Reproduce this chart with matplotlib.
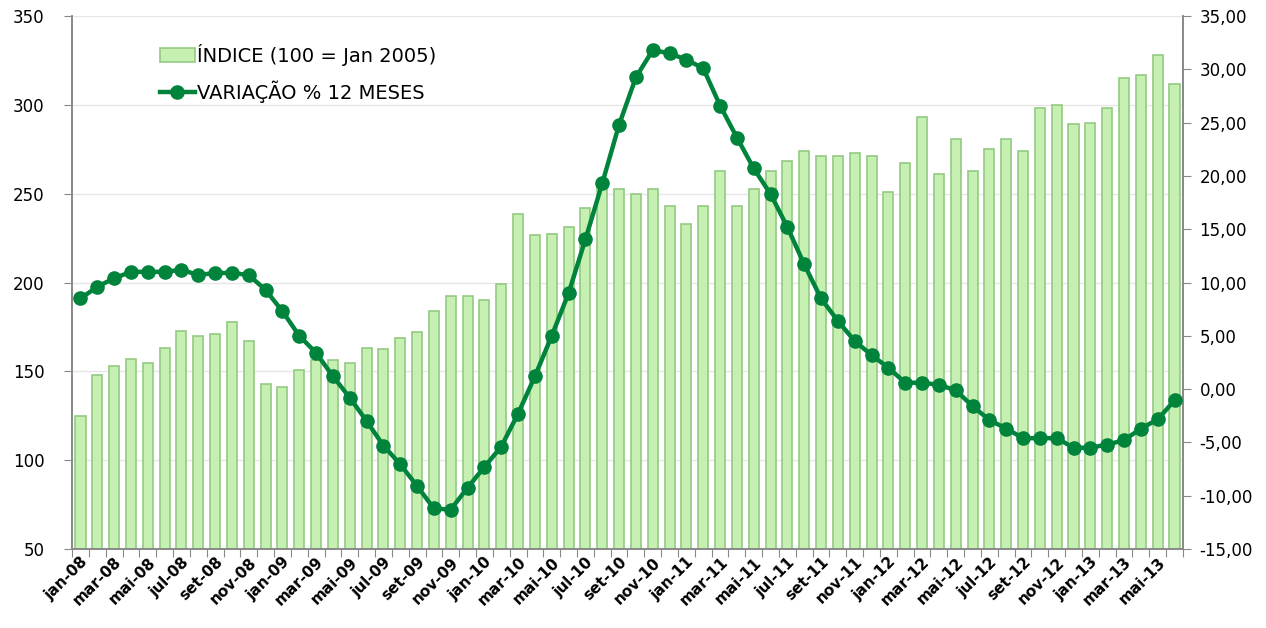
import numpy as np
import matplotlib
matplotlib.use("Agg")
import matplotlib.pyplot as plt
from matplotlib.ticker import FuncFormatter

meses = ["jan", "fev", "mar", "abr", "mai", "jun", "jul", "ago", "set", "out", "nov", "dez"]
rotulos = [f"{m}-{a:02d}" for a in range(8, 14) for m in meses][:66]

# índice (100 = jan 2005), eixo esquerdo
indice = [125, 148, 153, 157, 154.5, 163, 172.5, 170, 171, 177.5, 167, 143,
          141, 150.5, 156.5, 156.5, 154.5, 163, 162.5, 169, 172, 184,
          192.5, 192.5, 190, 199, 238.5, 226.5, 227.5, 231.5, 242, 253,
          252.5, 250, 252.5, 243, 233, 243, 263, 243, 252.5, 263,
          268.5, 274, 271, 271, 273, 271, 251, 267, 293, 261,
          280.5, 263, 275, 281, 274, 298.5, 300, 289, 290, 298.5,
          315, 317, 328, 312]

# variação % 12 meses, eixo direito
variacao = [8.5, 9.6, 10.4, 11.0, 11.0, 11.0, 11.2, 10.7, 10.9, 10.9, 10.7, 9.3,
            7.3, 5.0, 3.4, 1.2, -0.8, -3.0, -5.3, -7.05, -9.1, -11.2,
            -11.3, -9.25, -7.3, -5.4, -2.3, 1.2, 5.0, 9.0, 14.05, 19.3,
            24.8, 29.25, 31.8, 31.5, 30.9, 30.1, 26.6, 23.6, 20.7, 18.3,
            15.2, 11.7, 8.5, 6.4, 4.5, 3.2, 2.0, 0.6, 0.6, 0.4,
            -0.1, -1.6, -2.9, -3.7, -4.6, -4.6, -4.6, -5.5, -5.5, -5.2,
            -4.8, -3.7, -2.85, -1.05]

x = np.arange(len(indice))

fig = plt.figure(figsize=(12.66, 6.28), dpi=100)
ax = fig.add_axes([0.0569, 0.1258, 0.8775, 0.8487])
ax2 = ax.twinx()

barras = ax.bar(x, indice, width=0.6, bottom=0, color="#c6efb2", edgecolor="#94c983",
                linewidth=1.2, label="ÍNDICE (100 = Jan 2005)", zorder=2)
linha, = ax2.plot(x, variacao, color="#00843c", lw=3.2, marker="o", markersize=9.5,
                  label="VARIAÇÃO % 12 MESES", zorder=3)

ax.set_xlim(-0.5, len(x) - 0.5)
ax.set_ylim(50, 350)
ax.set_yticks(np.arange(50, 351, 50))
ax2.set_ylim(-15, 35)
ax2.set_yticks(np.arange(-15, 36, 5))
ax2.yaxis.set_major_formatter(FuncFormatter(lambda v, p: f"{v:.2f}".replace(".", ",")))

ax.grid(axis="y", color="#e6e6e6", lw=1)
ax.set_axisbelow(True)

# ticks nas divisas das categorias, rótulos a cada 2 meses
ax.set_xticks(np.arange(-0.5, len(x), 1))
ax.set_xticklabels([])
ax.set_xticks(x[::2], minor=True)
ax.set_xticklabels(rotulos[::2], minor=True, rotation=45, ha="right",
                   rotation_mode="anchor", fontsize=11, fontweight="bold")
ax.tick_params(axis="x", which="major", length=6, color="#888888")
ax.tick_params(axis="x", which="minor", length=0, pad=4)
ax.tick_params(axis="y", length=6, color="#888888", labelsize=12, pad=14)
ax2.tick_params(axis="y", length=6, color="#888888", labelsize=12, pad=6)

for a in (ax, ax2):
    a.spines["top"].set_visible(False)
    for s in ("left", "right", "bottom"):
        a.spines[s].set_color("#888888")
        a.spines[s].set_linewidth(1.2)

ax2.legend([barras, linha], [barras.get_label(), linha.get_label()],
           loc="upper left", bbox_to_anchor=(0.063, 0.981), borderaxespad=0.5,
           frameon=False, fontsize=14, handlelength=1.8, handletextpad=0.15,
           labelspacing=0.75)

fig.savefig("out.png", dpi=100)
